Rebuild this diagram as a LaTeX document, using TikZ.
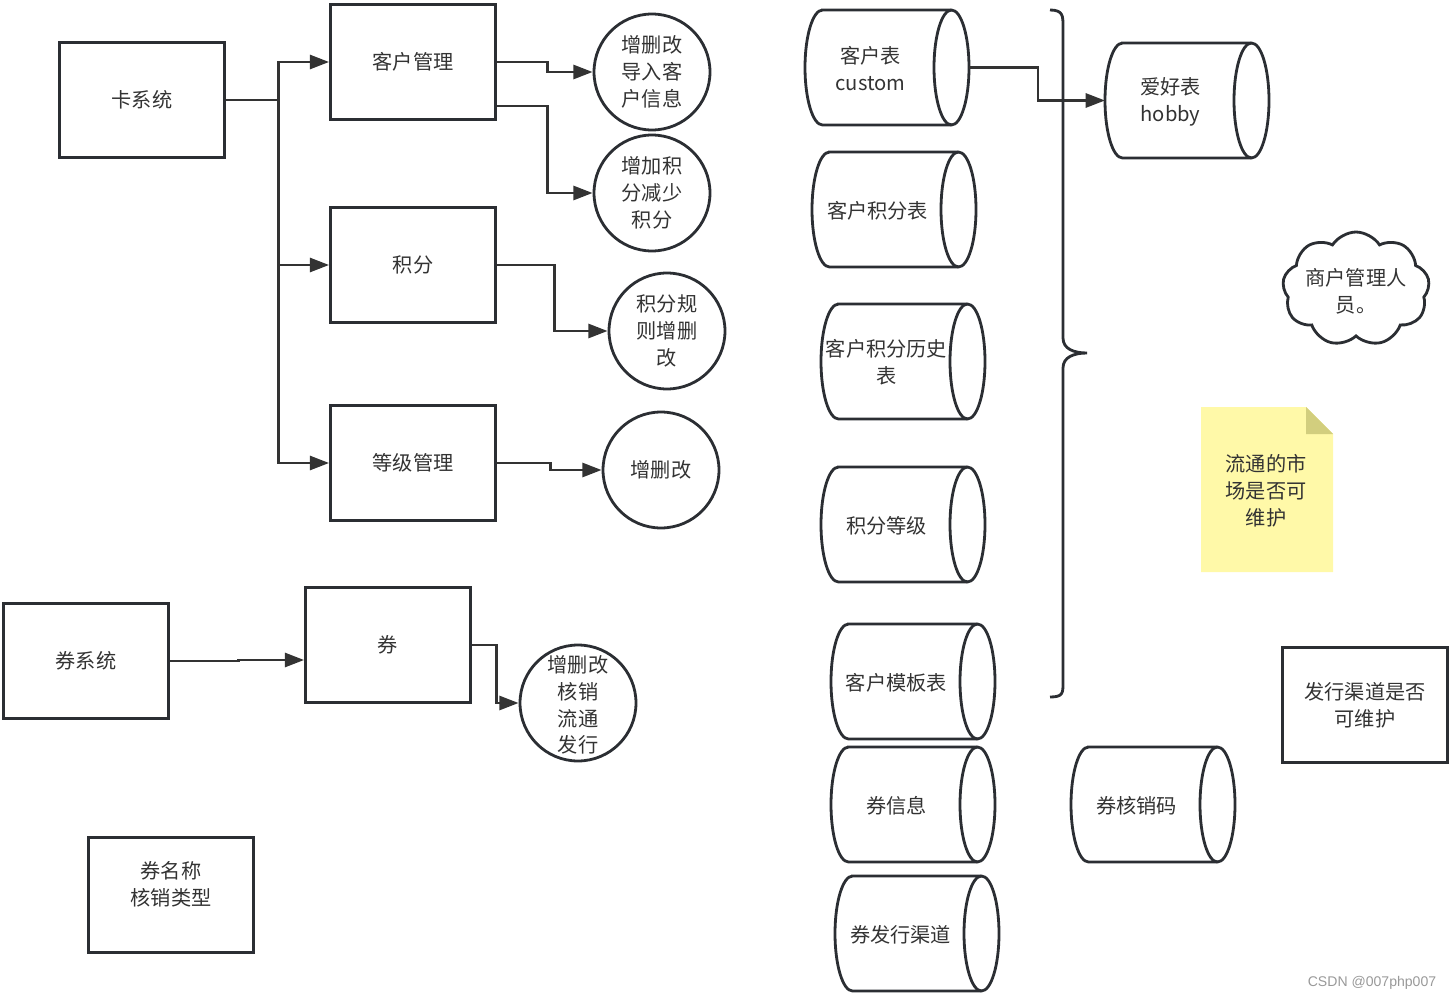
\documentclass[tikz,border=0pt]{standalone}
\usepackage{fontspec}
\setmainfont{Noto Sans CJK SC}
\newfontfamily\wmfont{Liberation Sans}
\usetikzlibrary{arrows.meta,shapes.symbols}
\definecolor{linec}{HTML}{2B2E33}
\definecolor{arrc}{HTML}{333333}
\definecolor{textc}{HTML}{333333}
\definecolor{notefill}{HTML}{FFF9A8}
\definecolor{notefold}{HTML}{D2CE7E}
\tikzset{
  txt/.style = {font=\fontsize{11.5}{15.3}\selectfont, align=center, text=textc, inner sep=0pt},
  box/.style = {txt, draw=linec, line width=1.6pt, minimum width=3.3cm, minimum height=2.3cm},
  circ/.style = {txt, circle, draw=linec, line width=1.6pt, minimum size=2.32cm},
  shp/.style = {draw=linec, line width=1.6pt},
  arr/.style = {draw=arrc, line width=1.6pt, -{Triangle[length=11pt,width=8pt]}},
}
% table cylinder: name, left x, top y, text
\newcommand{\dbcyl}[4]{%
  \draw[shp] (#2+17.5,#3) -- (#2+146.5,#3)
    arc[start angle=90,end angle=-90,x radius=0.35cm,y radius=1.15cm]
    -- (#2+17.5,#3+115)
    arc[start angle=270,end angle=90,x radius=0.35cm,y radius=1.15cm] -- cycle;
  \draw[shp] (#2+146.5,#3) arc[start angle=90,end angle=270,x radius=0.35cm,y radius=1.15cm];
  \node[txt] (#1) at (#2+65.5,#3+58.5) {#4};
  \coordinate (#1-e) at (#2+164,#3+57.5);
  \coordinate (#1-w) at (#2,#3+57.5);
}

\begin{document}
\begin{tikzpicture}[x=0.02cm,y=-0.02cm]
\useasboundingbox (0,0) rectangle (1453,1000);

% card system
\node[box] (ksys) at (142,100) {卡系统};
\node[box] (khgl) at (413,62) {客户管理};
\node[box] (jf) at (413,265) {积分};
\node[box] (djgl) at (413,463) {等级管理};

\node[circ] (c1) at (652,72) {增删改\\导入客\\户信息};
\node[circ] (c2) at (652,193) {增加积\\分减少\\积分};
\node[circ] (c3) at (667,331) {积分规\\则增删\\改};
\node[circ] (c4) at (661,470) {增删改};

\draw[arr] (ksys.east) -- ++(53,0) |- (khgl.west);
\draw[arr] (ksys.east) -- ++(53,0) |- (jf.west);
\draw[arr] (ksys.east) -- ++(53,0) |- (djgl.west);

\draw[arr] (khgl.east) -- ++(51,0) |- (c1.west);
\draw[arr] ([yshift=-0.88cm]khgl.east) -- ++(51,0) |- (c2.west);
\draw[arr] (jf.east) -- ++(58,0) |- (c3.west);
\draw[arr] (djgl.east) -- ++(54,0) |- (c4.west);

% coupon system
\node[box] (qsys) at (86,661) {券系统};
\node[box] (q) at (388,645) {券};
\node[circ] (c5) at (578,703) {};
\node[txt] (c5t) at (578,705) {增删改\\核销\\流通\\发行};

\draw[arr] (qsys.east) -- ++(69,0) |- ([yshift=-0.3cm]q.west);
\draw[arr] (q.east) -- ++(25,0) |- (c5.west);

\node[box] (qmc) at (171,895) {};
\node[txt] (qmct) at (171,884) {券名称\\核销类型};
\node[box] (fxqd) at (1365,705) {发行渠道是否\\可维护};

% tables
\dbcyl{ct}{805}{10}{客户表\\custom}
\dbcyl{cjf}{812}{152}{客户积分表}
\dbcyl{cls}{821}{304}{客户积分历史\\表}
\dbcyl{jdj}{821}{467}{积分等级}
\dbcyl{cmb}{831}{624}{客户模板表}
\dbcyl{qxx}{831}{747}{券信息}
\dbcyl{qqd}{835}{876}{券发行渠道}
\dbcyl{ah}{1105}{43}{爱好表\\hobby}
\dbcyl{qhx}{1071}{747}{券核销码}

\draw[arr] (ct-e) -- ++(69,0) |- (ah-w);

% brace
\draw[shp] (1050,10) .. controls (1063,10) and (1063,16) .. (1063,26) -- (1063,338)
  .. controls (1063,349) and (1074,353) .. (1087,353)
  .. controls (1074,353) and (1063,357) .. (1063,368) -- (1063,683)
  .. controls (1063,693) and (1063,697) .. (1050,697);

% cloud
\node[cloud, draw=linec, line width=1.6pt, cloud puffs=9, cloud puff arc=115,
  aspect=1.3, inner sep=0pt, minimum width=2.94cm, minimum height=2.28cm] (cloud) at (1356,289) {};
\node[txt] (cloudt) at (1356,291) {商户管理人\\员。};

% note
\fill[notefill] (1201,407) -- (1306,407) -- (1333,434) -- (1333,572) -- (1201,572) -- cycle;
\fill[notefold] (1306,407) -- (1333,434) -- (1306,434) -- cycle;
\node[txt] (note) at (1266,491) {流通的市\\场是否可\\维护};

\node[font=\wmfont\fontsize{8}{10}\selectfont, text=black!40, inner sep=0pt] (wm) at (1372,983) {CSDN @007php007};
\end{tikzpicture}
\end{document}
